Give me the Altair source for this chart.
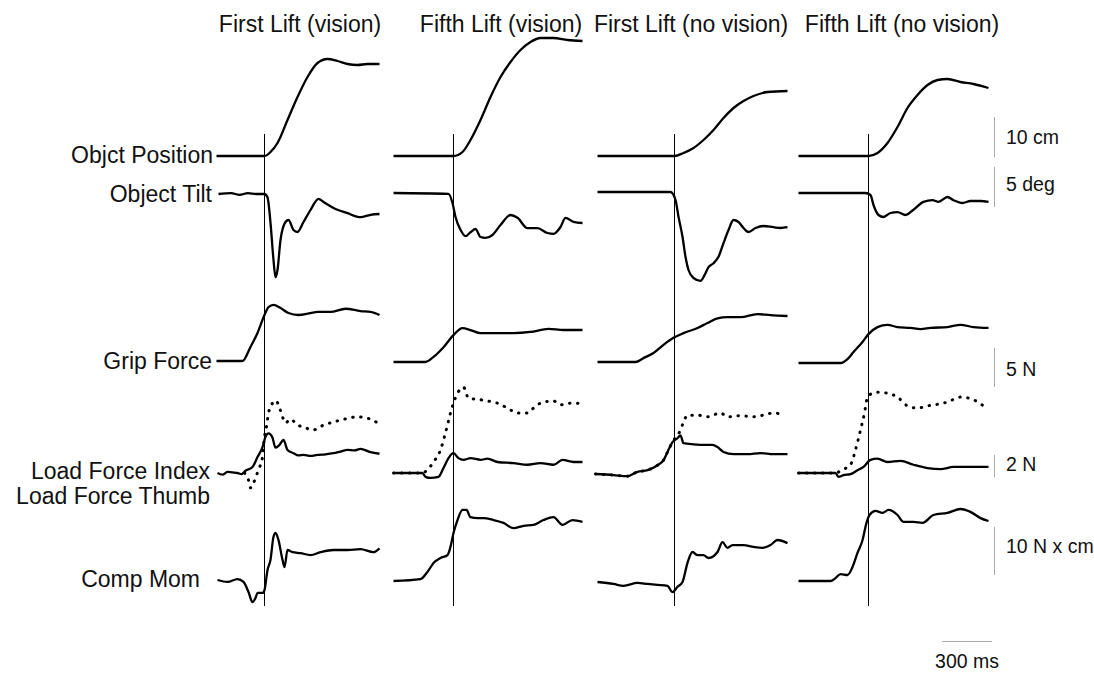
import altair as alt
import pandas as pd

# ---------------- text ----------------
TITLES = ["First Lift (vision)", "Fifth Lift (vision)", "First Lift (no vision)", "Fifth Lift (no vision)"]
ROW_LABELS = ["Objct Position", "Object Tilt", "Grip Force", "Load Force Index", "Load Force Thumb", "Comp Mom"]
SCALE_LABELS = ["10 cm", "5 deg", "5 N", "2 N", "10 N x cm"]
SCALE_ROWS = ["pos", "tilt", "grip", "load", "comp"]
SCALE_VALUES = [10, 5, 5, 2, 10]
TIME_BAR_MS = 300
TIME_LABEL = "300 ms"

# ---------------- data: time (ms re lift-off), value (cm, deg, N, N, N x cm) ----------------
# Column 1: First Lift (vision)
C1_POS_T = [-288, 0, 36, 78, 138, 198, 258, 318, 378, 438, 498, 558, 618, 690]
C1_POS_V = [0, 0, 1.0, 3.25, 9, 14.75, 19.75, 23.25, 24.25, 23.75, 23, 22.75, 23, 23]
C1_TILT_T = [-276, -200, -150, -100, -50, 0, 18, 36, 54, 66, 78, 96, 126, 144, 174, 198, 234, 276, 324, 354, 414, 498, 576, 636, 690]
C1_TILT_V = [0, 0.1, -0.1, 0.1, 0, 0, -0.4, -3.6, -8.25, -10.4, -9.5, -5.75, -3.5, -3.25, -4.5, -4.75, -3.5, -2, -0.6, -1, -1.75, -2.4, -2.9, -2.6, -2.5]
C1_GRIP_T = [-288, -132, -84, -42, 0, 24, 54, 96, 144, 204, 276, 318, 396, 486, 576, 636, 690]
C1_GRIP_V = [0, 0, 1.8, 3.6, 5.9, 6.9, 7.2, 6.8, 6.15, 5.9, 6.15, 6.3, 6.3, 6.7, 6.4, 6.3, 5.9]
C1_LOADI_T = [-282, -252, -222, -192, -162, -138, -114, -72, -42, -12, 6, 24, 48, 66, 90, 114, 138, 174, 204, 234, 276, 318, 366, 414, 456, 498, 540, 576, 636, 690]
C1_LOADI_V = [0, -0.15, 0.1, 0.05, 0, -0.1, 0.2, 0.55, 1.45, 2.35, 3.3, 3.6, 3.2, 2.3, 2.55, 3.0, 2.1, 1.8, 1.6, 1.65, 1.55, 1.65, 1.7, 1.8, 1.95, 2.1, 2.05, 2.2, 1.9, 1.75]
C1_LOADT_T = [-120, -96, -84, -66, -36, -12, 0, 12, 24, 48, 66, 84, 108, 126, 156, 198, 234, 288, 354, 456, 558, 636, 678]
C1_LOADT_V = [0, -0.65, -1.35, -0.9, 0.3, 1.45, 3.3, 4.2, 5.45, 6.35, 6.6, 6.2, 5.1, 4.55, 4.9, 4.35, 4.2, 3.9, 4.35, 4.8, 5.1, 4.9, 4.55]
C1_COMP_T = [-282, -222, -162, -126, -96, -72, -54, -42, -12, 0, 18, 36, 54, 66, 84, 108, 120, 138, 168, 216, 276, 336, 414, 498, 576, 654, 690]
C1_COMP_V = [0, -0.4, 0.2, -0.4, -2.5, -4.6, -3.75, -2.7, -2.7, -2.1, 2.1, 4.2, 9.0, 9.8, 8.3, 4.2, 2.7, 6.25, 5.8, 5.6, 5.2, 5.8, 6.25, 6.25, 6.45, 5.8, 6.6]

# Column 2: Fifth Lift (vision)
C2_POS_T = [-360, 0, 54, 102, 162, 222, 282, 342, 402, 462, 522, 600, 684, 774]
C2_POS_V = [0, 0, 1, 4, 9, 14.75, 19.75, 23.5, 26.5, 28.5, 29.5, 29.5, 29, 28.75]
C2_TILT_T = [-360, -30, -6, 12, 42, 72, 102, 132, 162, 192, 234, 282, 342, 384, 444, 504, 564, 600, 642, 672, 720, 774]
C2_TILT_V = [0, -0.1, -1.25, -3, -4.6, -5.4, -4.9, -4.5, -5.5, -5.6, -5.25, -4, -2.75, -3.1, -4.4, -4.4, -5, -5.1, -4.25, -3.1, -3.6, -3.75]
C2_GRIP_T = [-360, -168, -120, -60, 0, 54, 102, 162, 264, 360, 462, 570, 660, 774]
C2_GRIP_V = [0, 0, 0.65, 1.9, 3.45, 4.35, 4.1, 3.7, 3.7, 3.7, 3.85, 4.25, 4.1, 4.1]
C2_LOADI_T = [-360, -186, -168, -138, -90, -60, -30, 0, 30, 60, 102, 162, 204, 264, 360, 444, 522, 600, 654, 720, 774]
C2_LOADI_V = [0, 0, -0.35, -0.45, -0.35, 0.45, 1.35, 1.8, 1.35, 1.2, 1.35, 1.2, 1.3, 1.0, 0.9, 0.75, 0.9, 0.75, 1.2, 1.0, 1.0]
C2_LOADT_T = [-360, -186, -156, -120, -78, -48, -18, 0, 24, 60, 90, 144, 204, 264, 324, 384, 444, 480, 522, 600, 642, 702, 762]
C2_LOADT_V = [0, 0, 0.3, 1.0, 2.1, 3.65, 5.45, 6.35, 7.25, 7.8, 6.8, 6.7, 6.55, 6.35, 5.9, 5.45, 5.45, 5.9, 6.35, 6.55, 6.2, 6.35, 6.35]
C2_COMP_T = [-360, -198, -156, -120, -78, -36, -18, 0, 24, 54, 78, 102, 144, 180, 240, 300, 360, 420, 480, 540, 600, 654, 714, 774]
C2_COMP_V = [0, 0.4, 1.9, 3.75, 4.8, 5.4, 7.1, 10, 12.7, 14.8, 14.8, 13.3, 13.1, 13.1, 12.7, 12.1, 11.0, 11.5, 11.7, 12.7, 13.3, 11.7, 12.7, 12.3]

# Column 3: First Lift (no vision)
C3_POS_T = [-462, 0, 54, 114, 174, 234, 294, 354, 414, 474, 558, 678]
C3_POS_V = [0, 0, 0.75, 2, 4, 6.5, 9.5, 12, 13.75, 15, 16, 16.25]
C3_TILT_T = [-462, -24, 6, 24, 48, 66, 84, 114, 156, 180, 204, 234, 264, 294, 324, 354, 384, 414, 444, 486, 534, 594, 636, 678]
C3_TILT_V = [0, 0, -1, -3.1, -5.6, -8.1, -9.75, -10.75, -11.1, -10.4, -9.4, -8.9, -8.1, -6.4, -4.75, -3.5, -3.75, -4.5, -5, -4.5, -4.25, -4.4, -4.5, -4.4]
C3_GRIP_T = [-462, -234, -186, -126, -66, -6, 54, 138, 198, 258, 318, 396, 498, 576, 678]
C3_GRIP_V = [0, 0, 0.5, 1.15, 2.2, 3.1, 3.7, 4.35, 5.0, 5.6, 5.75, 5.75, 6.15, 6.0, 5.9]
C3_LOADI_T = [-474, -366, -282, -222, -162, -102, -66, -36, -12, 18, 36, 54, 114, 198, 228, 258, 294, 354, 438, 516, 594, 678]
C3_LOADI_V = [0, -0.1, -0.2, 0.2, 0.35, 0.8, 1.25, 2.2, 2.9, 3.25, 3.5, 2.8, 2.7, 2.65, 2.65, 2.45, 2.0, 1.8, 1.8, 1.9, 1.8, 1.8]
C3_LOADT_T = [-474, -366, -282, -222, -162, -102, -66, -36, -12, 36, 54, 78, 138, 198, 276, 318, 396, 474, 534, 594, 636]
C3_LOADT_V = [0, -0.1, -0.2, 0.2, 0.35, 0.8, 1.25, 2.2, 2.9, 4.0, 4.7, 5.35, 5.35, 5.2, 5.55, 5.2, 5.3, 5.2, 5.35, 5.55, 5.45]
C3_COMP_T = [-462, -366, -306, -222, -162, -102, -42, -12, 18, 48, 78, 108, 138, 174, 204, 258, 288, 318, 348, 414, 474, 528, 576, 618, 678]
C3_COMP_V = [0, -0.4, -0.8, -0.2, -0.4, -0.6, -0.8, -2.1, -1.0, 0, 4.0, 6.25, 5.6, 5.6, 5.0, 6.25, 8.3, 7.1, 7.7, 7.7, 7.3, 7.1, 7.7, 8.75, 8.1]

# Column 4: Fifth Lift (no vision)
C4_POS_T = [-420, 0, 54, 114, 174, 234, 294, 354, 414, 474, 552, 630, 720]
C4_POS_V = [0, 0, 0.75, 3.25, 7.25, 12, 15.25, 17.75, 19, 19.25, 18.5, 18, 17]
C4_TILT_T = [-420, -18, 12, 30, 60, 90, 132, 174, 222, 270, 330, 384, 420, 474, 510, 564, 612, 672, 720]
C4_TILT_V = [0, 0, -0.25, -1.5, -2.75, -3, -2.5, -2.4, -2.75, -2.1, -1.1, -0.9, -1.1, -0.5, -0.9, -1.25, -1.0, -1.0, -1.1]
C4_GRIP_T = [-420, -168, -126, -90, -36, 0, 54, 114, 174, 252, 312, 372, 474, 552, 630, 720]
C4_GRIP_V = [0, 0, 0.5, 1.4, 2.7, 3.7, 4.6, 4.9, 4.6, 4.5, 4.35, 4.5, 4.6, 4.9, 4.6, 4.5]
C4_LOADI_T = [-420, -198, -180, -150, -108, -66, -30, 12, 54, 114, 192, 270, 354, 432, 510, 594, 672, 720]
C4_LOADI_V = [0, 0, -0.35, -0.2, -0.1, 0.25, 0.55, 1.2, 1.3, 1.0, 1.1, 0.75, 0.45, 0.35, 0.55, 0.55, 0.55, 0.55]
C4_LOADT_T = [-420, -198, -156, -108, -78, -48, -24, -6, 24, 54, 114, 174, 234, 294, 354, 414, 474, 552, 624, 690]
C4_LOADT_V = [0, 0, 0.3, 0.75, 2.1, 3.9, 5.45, 6.9, 7.25, 7.35, 7.25, 6.9, 6.1, 5.9, 6.1, 6.25, 6.45, 6.9, 6.7, 6.1]
C4_COMP_T = [-420, -228, -198, -168, -126, -96, -66, -36, -12, 6, 42, 84, 120, 174, 210, 270, 324, 390, 474, 552, 612, 672, 720]
C4_COMP_V = [0, 0, 0.6, 1.45, 1.25, 2.9, 5.85, 8.5, 12.1, 13.75, 14.6, 14.2, 14.8, 13.75, 12.3, 12.3, 12.1, 13.75, 14.2, 15.0, 14.4, 13.1, 12.5]

# ---------------- layout ----------------
W, H = 1094, 674
MS_PER_PX = 6
LIFT_AT_MS = [1587, 2721, 4047, 5211]          # lift-off instant of each column on the shared time axis
ROW_GAIN = {"pos": 4.0, "tilt": 8.0, "grip": 7.8, "load": 11.0, "comp": 4.8}   # px per unit
ROW_BASE = {"pos": [156, 156, 156, 156], "tilt": [194, 193, 192, 193],
            "grip": [361, 362, 362, 363], "load": [473, 473, 474, 473], "comp": [580, 581, 582, 581]}
BAR_BASE = {"pos": 157, "tilt": 207, "grip": 387, "load": 477, "comp": 575}
BAR_AT_MS = 5967
TIME_BAR_AT_MS = 5652
TIME_BAR_Y = 641.5
FONT = "Liberation Sans"

TRACES = [
    (0, "pos", "solid", C1_POS_T, C1_POS_V), (0, "tilt", "solid", C1_TILT_T, C1_TILT_V),
    (0, "grip", "solid", C1_GRIP_T, C1_GRIP_V), (0, "load", "solid", C1_LOADI_T, C1_LOADI_V),
    (0, "load", "dotted", C1_LOADT_T, C1_LOADT_V), (0, "comp", "solid", C1_COMP_T, C1_COMP_V),
    (1, "pos", "solid", C2_POS_T, C2_POS_V), (1, "tilt", "solid", C2_TILT_T, C2_TILT_V),
    (1, "grip", "solid", C2_GRIP_T, C2_GRIP_V), (1, "load", "solid", C2_LOADI_T, C2_LOADI_V),
    (1, "load", "dotted", C2_LOADT_T, C2_LOADT_V), (1, "comp", "solid", C2_COMP_T, C2_COMP_V),
    (2, "pos", "solid", C3_POS_T, C3_POS_V), (2, "tilt", "solid", C3_TILT_T, C3_TILT_V),
    (2, "grip", "solid", C3_GRIP_T, C3_GRIP_V), (2, "load", "solid", C3_LOADI_T, C3_LOADI_V),
    (2, "load", "dotted", C3_LOADT_T, C3_LOADT_V), (2, "comp", "solid", C3_COMP_T, C3_COMP_V),
    (3, "pos", "solid", C4_POS_T, C4_POS_V), (3, "tilt", "solid", C4_TILT_T, C4_TILT_V),
    (3, "grip", "solid", C4_GRIP_T, C4_GRIP_V), (3, "load", "solid", C4_LOADI_T, C4_LOADI_V),
    (3, "load", "dotted", C4_LOADT_T, C4_LOADT_V), (3, "comp", "solid", C4_COMP_T, C4_COMP_V),
]

rows = []
for k, (c, r, style, ts, vs) in enumerate(TRACES):
    for t, v in zip(ts, vs):
        rows.append({"id": k, "style": style, "t": t,
                     "X": LIFT_AT_MS[c] + t,
                     "Y": ROW_BASE[r][c] - v * ROW_GAIN[r]})
df = pd.DataFrame(rows)

xs = alt.Scale(domain=[0, W * MS_PER_PX], nice=False, zero=False)
ys = alt.Scale(domain=[H, 0], nice=False, zero=False)

def X(f):
    return alt.X(f, type="quantitative", scale=xs, axis=None)

def Y(f):
    return alt.Y(f, type="quantitative", scale=ys, axis=None)

dotted = alt.Chart(df[df["style"] == "dotted"]).mark_line(
    color="#000000", strokeWidth=3, strokeDash=[0.5, 7.5], strokeCap="round", interpolate="monotone"
).encode(x=X("X"), y=Y("Y"), detail="id:N", order="t:Q")

solid = alt.Chart(df[df["style"] == "solid"]).mark_line(
    color="#000000", strokeWidth=2.3, interpolate="monotone"
).encode(x=X("X"), y=Y("Y"), detail="id:N", order="t:Q")

lift_df = pd.DataFrame({"X": LIFT_AT_MS, "Y": [134] * 4, "Y2": [606] * 4})
lift = alt.Chart(lift_df).mark_rule(color="#000000", strokeWidth=1).encode(
    x=X("X"), y=Y("Y"), y2="Y2:Q")

bar_df = pd.DataFrame({
    "X": [BAR_AT_MS] * len(SCALE_ROWS),
    "Y": [BAR_BASE[r] for r in SCALE_ROWS],
    "Y2": [BAR_BASE[r] - val * ROW_GAIN[r] for r, val in zip(SCALE_ROWS, SCALE_VALUES)],
    "label": SCALE_LABELS,
})
bars = alt.Chart(bar_df).mark_rule(color="#aaaaaa", strokeWidth=1).encode(
    x=X("X"), y=Y("Y"), y2="Y2:Q")

tb_df = pd.DataFrame({"X": [TIME_BAR_AT_MS], "X2": [TIME_BAR_AT_MS + TIME_BAR_MS], "Y": [TIME_BAR_Y]})
tbar = alt.Chart(tb_df).mark_rule(color="#aaaaaa", strokeWidth=1).encode(
    x=X("X"), x2="X2:Q", y=Y("Y"))

def text_layer(texts, xpx, ypx, align, size):
    d = pd.DataFrame({"txt": texts, "X": [p * MS_PER_PX for p in xpx], "Y": ypx})
    return alt.Chart(d).mark_text(align=align, baseline="middle", font=FONT, fontSize=size,
                                  color="#111111").encode(x=X("X"), y=Y("Y"), text="txt:N")

titles = text_layer(TITLES, [300, 501, 691, 902], [25, 25, 25, 25], "center", 23)
left = text_layer(ROW_LABELS, [213, 212, 212, 210, 210, 200], [156, 195, 362, 472, 497, 580], "right", 23)
right = text_layer(SCALE_LABELS, [1006, 1006, 1006, 1006, 1006], [138, 185, 370, 465, 547], "left", 19.5)
tlabel = text_layer([TIME_LABEL], [967], [662], "center", 19.5)

chart = alt.layer(lift, bars, tbar, dotted, solid, titles, left, right, tlabel).properties(
    width=W, height=H, padding=0, autosize=alt.AutoSizeParams(type="none"), background="white"
).configure_view(stroke=None)

chart.save("out.html", embed_options={"renderer": "svg", "actions": False})
